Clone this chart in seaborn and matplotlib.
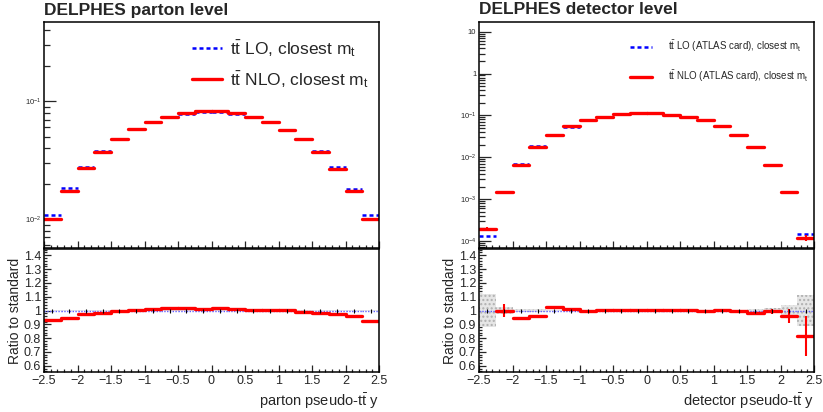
import matplotlib
matplotlib.use('Agg')

import matplotlib.pyplot as plt
import numpy as np
import pandas as pd
import seaborn as sns
from matplotlib.lines import Line2D
from matplotlib.ticker import MultipleLocator, LogLocator, FuncFormatter, NullFormatter

sns.set_style("ticks")
plt.rcParams['font.family'] = ['Liberation Sans', 'DejaVu Sans']
plt.rcParams['mathtext.fontset'] = 'custom'
plt.rcParams['mathtext.rm'] = 'Liberation Sans'
plt.rcParams['mathtext.it'] = 'Liberation Sans:italic'
plt.rcParams['mathtext.bf'] = 'Liberation Sans:bold'

# Binning: 20 bins in pseudo-ttbar rapidity
edges = np.linspace(-2.5, 2.5, 21)
centers = 0.5 * (edges[:-1] + edges[1:])

# Parton level (normalised)
parton_lo = [0.0108, 0.0184, 0.0277, 0.0378, 0.0483, 0.0578, 0.0665, 0.0733, 0.0785, 0.0815,
             0.0813, 0.0780, 0.0732, 0.0664, 0.0575, 0.0481, 0.0377, 0.0275, 0.0182, 0.0108]
parton_nlo = [0.0100, 0.0174, 0.0270, 0.0371, 0.0481, 0.0580, 0.0669, 0.0742, 0.0796, 0.0823,
              0.0826, 0.0790, 0.0737, 0.0669, 0.0576, 0.0477, 0.0371, 0.0268, 0.0174, 0.0100]
parton_ratio = [0.934, 0.946, 0.975, 0.985, 1.000, 1.007, 1.010, 1.015, 1.017, 1.010,
                1.017, 1.012, 1.007, 1.007, 1.002, 0.990, 0.985, 0.975, 0.958, 0.924]
parton_ratio_err = [0.004] * 20
parton_band = [0.004] * 20

# Detector level (normalised)
detector_lo = [1.32e-4, 1.47e-3, 6.8e-3, 0.0183, 0.0337, 0.0541, 0.0761, 0.0926, 0.1058, 0.1118,
               0.1112, 0.1038, 0.0925, 0.0764, 0.0546, 0.0346, 0.0180, 6.45e-3, 1.50e-3, 1.48e-4]
detector_nlo = [1.95e-4, 1.47e-3, 6.4e-3, 0.0176, 0.0346, 0.0547, 0.0760, 0.0930, 0.1060, 0.1120,
                0.1120, 0.1040, 0.0930, 0.0760, 0.0547, 0.0346, 0.0176, 6.4e-3, 1.45e-3, 1.20e-4]
detector_nlo_err = [1.5e-5, 0, 0, 0, 0, 0, 0, 0, 0, 0,
                    0, 0, 0, 0, 0, 0, 0, 0, 0, 1.8e-5]
detector_ratio = [1.50, 1.000, 0.946, 0.958, 1.027, 1.010, 0.998, 1.005, 1.002, 1.002,
                  1.007, 1.002, 1.005, 0.995, 1.002, 0.998, 0.980, 0.993, 0.960, 0.816]
detector_ratio_err = [0.0, 0.050, 0.010, 0.007, 0.007, 0.005, 0.003, 0.003, 0.002, 0.002,
                      0.002, 0.002, 0.003, 0.003, 0.004, 0.005, 0.008, 0.020, 0.050, 0.145]
detector_band = [0.118, 0.025, 0.012, 0.008, 0.006, 0.004, 0.003, 0.002, 0.002, 0.002,
                 0.002, 0.002, 0.002, 0.003, 0.004, 0.006, 0.012, 0.018, 0.039, 0.113]
reference_ratio = [1.0] * 20

BLUE = "#0000ff"
RED = "#ff0000"
DASH = (0, (1.6, 1.2))


def draw_hist(ax, vals, **kw):
    # one horizontal segment per bin, drawn by seaborn with units=bin
    df = pd.DataFrame({
        "bin": np.repeat(np.arange(len(vals)), 2),
        "x": np.column_stack([edges[:-1], edges[1:]]).ravel(),
        "y": np.repeat(vals, 2),
    })
    sns.lineplot(data=df, x="x", y="y", units="bin", estimator=None, sort=False,
                 ax=ax, legend=False, **kw)


def log_label(v, pos):
    if v >= 10:
        return "10"
    if abs(v - 1) < 1e-9:
        return "1"
    return r"$10^{%d}$" % int(round(np.log10(v)))


def style_axis(ax):
    for s in ax.spines.values():
        s.set_linewidth(1.1)
        s.set_color("black")
    ax.tick_params(which="both", direction="in", top=False, right=False, width=0.9)


def main_panel(ax, lo, nlo, ylim, nlo_err=None):
    draw_hist(ax, lo, color=BLUE, lw=1.8, linestyle=DASH)
    draw_hist(ax, nlo, color=RED, lw=2.4)
    if nlo_err is not None:
        ax.errorbar(centers, nlo, yerr=nlo_err, fmt="none", ecolor=RED, elinewidth=1.5)
    ax.set_yscale("log")
    ax.set_xlim(-2.5, 2.5)
    ax.set_ylim(*ylim)
    ax.set_xlabel("")
    ax.set_ylabel("")
    ax.xaxis.set_major_locator(MultipleLocator(0.5))
    ax.xaxis.set_minor_locator(MultipleLocator(0.1))
    ax.set_xticklabels([])
    ax.yaxis.set_major_locator(LogLocator(base=10, numticks=20))
    ax.yaxis.set_minor_locator(LogLocator(base=10, subs=np.arange(2, 10), numticks=100))
    ax.yaxis.set_major_formatter(FuncFormatter(log_label))
    ax.yaxis.set_minor_formatter(NullFormatter())
    style_axis(ax)
    ax.tick_params(axis="y", which="major", length=8.5, labelsize=5.5, pad=2)
    ax.tick_params(axis="y", which="minor", length=4)
    ax.tick_params(axis="x", which="major", length=5)
    ax.tick_params(axis="x", which="minor", length=2.5)


def ratio_panel(ax, ratio, ratio_err, band, xlabel):
    ax.bar(centers, 2 * np.array(band), bottom=1 - np.array(band), width=0.25,
           color="#e6e6e6", edgecolor="#b0b0b0", linewidth=0, hatch="....")
    draw_hist(ax, reference_ratio, color="#6060ff", lw=1.0, linestyle=(0, (1, 1)))
    draw_hist(ax, ratio, color=RED, lw=2.4)
    ax.errorbar(centers, ratio, yerr=ratio_err, fmt="none", ecolor=RED, elinewidth=1.5)
    ax.plot(centers, reference_ratio, ls="none", marker="|", ms=2.5, color="k", mew=0.8)
    ax.set_xlim(-2.5, 2.5)
    ax.set_ylim(0.555, 1.445)
    ax.xaxis.set_major_locator(MultipleLocator(0.5))
    ax.xaxis.set_minor_locator(MultipleLocator(0.1))
    ax.yaxis.set_major_locator(MultipleLocator(0.1))
    ax.yaxis.set_minor_locator(MultipleLocator(0.02))
    fmt = FuncFormatter(lambda v, p: ("%g" % round(v, 2)).replace("-", "\u2212"))
    ax.xaxis.set_major_formatter(fmt)
    ax.yaxis.set_major_formatter(fmt)
    style_axis(ax)
    ax.tick_params(which="major", length=5, labelsize=9, pad=2)
    ax.tick_params(which="minor", length=2.5)
    ax.set_ylabel("Ratio to standard", fontsize=10, labelpad=1)
    ax.set_xlabel(xlabel, fontsize=10.5, loc="right", labelpad=3)


fig = plt.figure(figsize=(8.23, 4.12), dpi=100)

# pixel layout of the reference
W, H = 823.0, 412.0
left_x, right_x, ax_w = 44 / W, 479 / W, 335 / W
top_b, top_h = 1 - 248 / H, 226 / H
rat_b, rat_h = 1 - 372 / H, 123 / H

ax1 = fig.add_axes([left_x, top_b, ax_w, top_h])
ax2 = fig.add_axes([left_x, rat_b, ax_w, rat_h])
ax3 = fig.add_axes([right_x, top_b, ax_w, top_h])
ax4 = fig.add_axes([right_x, rat_b, ax_w, rat_h])

main_panel(ax1, parton_lo, parton_nlo, (0.0057, 0.47))
main_panel(ax3, detector_lo, detector_nlo, (6.8e-5, 17), nlo_err=detector_nlo_err)

ratio_panel(ax2, parton_ratio, parton_ratio_err, parton_band, r"parton pseudo-t$\bar{\rm t}$ y")
ratio_panel(ax4, detector_ratio, detector_ratio_err, detector_band, r"detector pseudo-t$\bar{\rm t}$ y")

fig.text(left_x, 1 - 10 / H, "DELPHES parton level", fontsize=12.5, fontweight="bold",
         va="center", ha="left")
fig.text(right_x, 1 - 10 / H, "DELPHES detector level", fontsize=12.5, fontweight="bold",
         va="center", ha="left")

h_lo = Line2D([], [], color=BLUE, lw=1.8, linestyle=DASH)
h_nlo = Line2D([], [], color=RED, lw=2.4)

ax1.legend([h_lo, h_nlo],
           [r"t$\bar{\rm t}$ LO, closest m$_{\rm t}$", r"t$\bar{\rm t}$ NLO, closest m$_{\rm t}$"],
           loc="upper right", bbox_to_anchor=(1.0, 0.975), frameon=False, fontsize=12.5,
           handlelength=1.75, handletextpad=0.45, labelspacing=0.55, borderaxespad=0.2)
ax3.legend([h_lo, h_nlo],
           [r"t$\bar{\rm t}$ LO (ATLAS card), closest m$_{\rm t}$",
            r"t$\bar{\rm t}$ NLO (ATLAS card), closest m$_{\rm t}$"],
           loc="upper right", bbox_to_anchor=(1.0, 0.953), frameon=False, fontsize=7,
           handlelength=2.3, handletextpad=1.6, labelspacing=1.45, borderaxespad=0.2)

fig.savefig("out.png", dpi=100)
